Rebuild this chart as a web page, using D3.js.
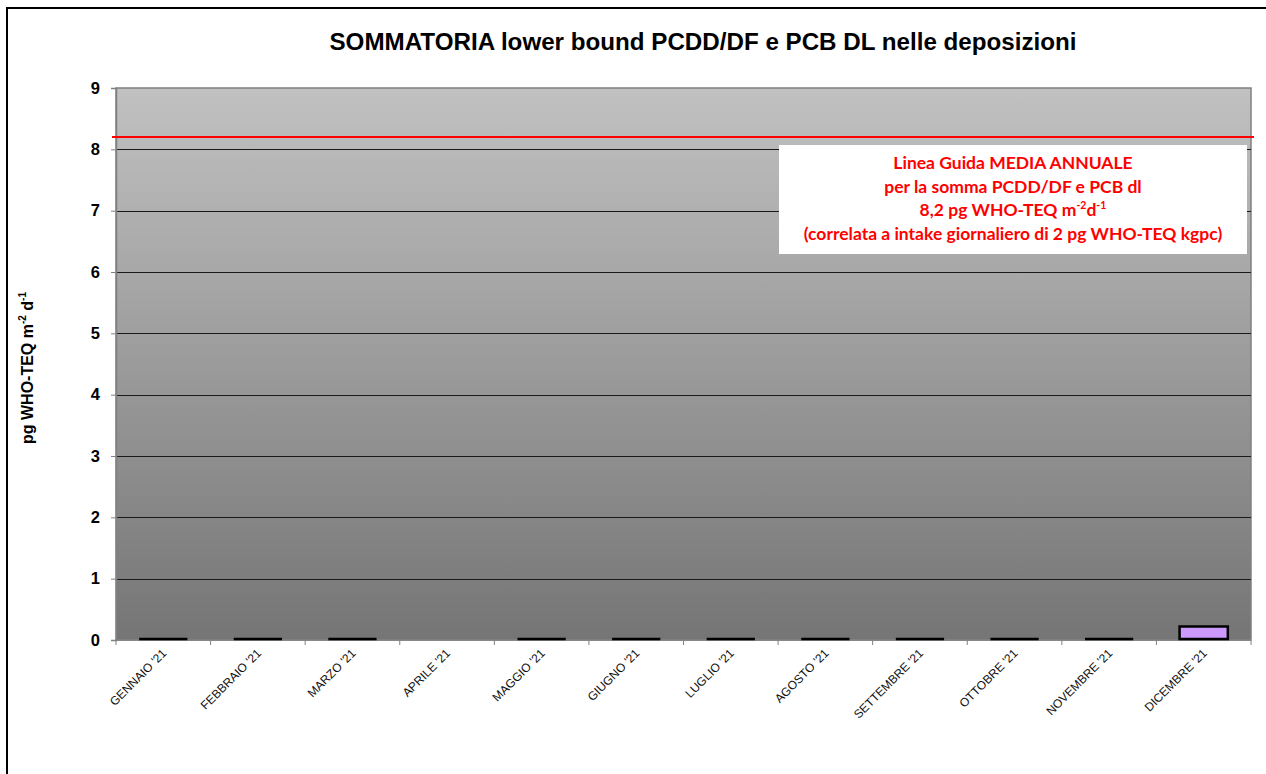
<!DOCTYPE html>
<html>
<head>
<meta charset="utf-8">
<script src="https://cdn.jsdelivr.net/npm/d3@7"></script>
<style>
  html, body { margin: 0; padding: 0; background: #fff; }
  svg { display: block; }
</style>
</head>
<body>
<svg id="chart" width="1266" height="774"></svg>
<script>
// Monthly deposition totals (pg WHO-TEQ m-2 d-1); April has no sample
const months = ["GENNAIO '21", "FEBBRAIO '21", "MARZO '21", "APRILE '21", "MAGGIO '21", "GIUGNO '21",
                "LUGLIO '21", "AGOSTO '21", "SETTEMBRE '21", "OTTOBRE '21", "NOVEMBRE '21", "DICEMBRE '21"];
const values = [0, 0, 0, null, 0, 0, 0, 0, 0, 0, 0, 0.22];
const yTicks = [0, 1, 2, 3, 4, 5, 6, 7, 8, 9];
const guideline = 8.2;
const noteLines = ["Linea Guida MEDIA ANNUALE", "per la somma PCDD/DF e PCB dl", "8,2 pg WHO-TEQ m|-2|d|-1", "(correlata a intake giornaliero di 2 pg WHO-TEQ kgpc)"];

const svg = d3.select("#chart");
const plot = { left: 116, top: 88, right: 1251, bottom: 640 };
const sans = "Liberation Sans, Arial, sans-serif";

// Outer frame
svg.append("rect").attr("x", 7).attr("y", 8).attr("width", 1270).attr("height", 780)
  .attr("fill", "#fff").attr("stroke", "#000").attr("stroke-width", 2);

// Title
svg.append("text").attr("x", 703).attr("y", 50).attr("text-anchor", "middle")
  .attr("font-family", sans).attr("font-weight", "bold")
  .attr("font-size", 23).attr("fill", "#000")
  .attr("textLength", 747).attr("lengthAdjust", "spacingAndGlyphs")
  .text("SOMMATORIA  lower bound PCDD/DF e PCB DL nelle deposizioni");

const x = d3.scaleBand().domain(months).range([plot.left, plot.right]).paddingInner(0.49).paddingOuter(0.245);
const xBand = d3.scaleBand().domain(months).range([plot.left, plot.right]);
const y = d3.scaleLinear().domain([0, 9]).range([plot.bottom, plot.top]);

// Plot background gradient
const defs = svg.append("defs");
const grad = defs.append("linearGradient").attr("id", "bg").attr("x1", 0).attr("y1", 0).attr("x2", 0).attr("y2", 1);
grad.append("stop").attr("offset", "0%").attr("stop-color", "#c1c1c1");
grad.append("stop").attr("offset", "100%").attr("stop-color", "#757575");

svg.append("rect").attr("x", plot.left).attr("y", plot.top)
  .attr("width", plot.right - plot.left).attr("height", plot.bottom - plot.top)
  .attr("fill", "url(#bg)").attr("stroke", "#808080").attr("stroke-width", 1.5);

// Gridlines
svg.append("g").selectAll("line").data(yTicks.filter(d => d > 0 && d < 9)).join("line")
  .attr("x1", plot.left).attr("x2", plot.right)
  .attr("y1", d => Math.round(y(d)) + 0.5).attr("y2", d => Math.round(y(d)) + 0.5)
  .attr("stroke", "#1a1a1a").attr("stroke-width", 1);

// Y axis
const yAxis = svg.append("g").attr("transform", `translate(${plot.left},0)`)
  .call(d3.axisLeft(y).tickValues(yTicks).tickSize(5).tickPadding(11).tickFormat(d3.format("d")));
yAxis.select(".domain").attr("stroke", "#808080").attr("stroke-width", 1.5);
yAxis.selectAll(".tick line").attr("stroke", "#808080");
yAxis.selectAll("text").attr("font-family", sans)
  .attr("font-weight", "bold").attr("font-size", 16.5).attr("fill", "#000");

// X axis with ticks at category boundaries
const xAxisG = svg.append("g").attr("transform", `translate(0,${plot.bottom})`);
xAxisG.append("line").attr("x1", plot.left).attr("x2", plot.right).attr("y1", 0).attr("y2", 0)
  .attr("stroke", "#808080").attr("stroke-width", 1.5);
xAxisG.selectAll("line.tk").data(months.concat(["__end"])).join("line").attr("class", "tk")
  .attr("x1", (d, i) => plot.left + i * xBand.bandwidth()).attr("x2", (d, i) => plot.left + i * xBand.bandwidth())
  .attr("y1", 0).attr("y2", 5).attr("stroke", "#808080");
xAxisG.selectAll("text").data(months).join("text")
  .attr("transform", d => `translate(${xBand(d) + xBand.bandwidth() / 2 + 4},${14}) rotate(-45)`)
  .attr("text-anchor", "end")
  .attr("font-family", sans).attr("font-size", 12)
  .attr("fill", "#111").text(d => d);

// Bars (drawn as paths so zero-height bars still show their outline)
svg.append("g").selectAll("path").data(months.map((m, i) => ({ m, v: values[i] })).filter(d => d.v !== null)).join("path")
  .attr("d", d => {
    const x0 = x(d.m), x1 = x0 + x.bandwidth(), y0 = y(0) - 1, y1 = Math.min(y(d.v), y0);
    return `M${x0},${y0}H${x1}V${y1}H${x0}Z`;
  })
  .attr("fill", "#cc99ff").attr("stroke", "#000").attr("stroke-width", 2.5);

// Guideline
svg.append("line").attr("x1", plot.left - 4).attr("x2", plot.right + 3)
  .attr("y1", y(guideline)).attr("y2", y(guideline))
  .attr("stroke", "#ff0000").attr("stroke-width", 2);

// Annotation box
svg.append("rect").attr("x", 779).attr("y", 145).attr("width", 468).attr("height", 109).attr("fill", "#fff");
const note = svg.append("text").attr("text-anchor", "middle")
  .attr("font-family", "Lato, 'Open Sans', sans-serif").attr("font-weight", "bold")
  .attr("font-size", 17.5).attr("fill", "#ff0000");
noteLines.forEach((line, i) => {
  const t = note.append("tspan").attr("x", 1013).attr("y", 169 + i * 23.5);
  const parts = line.split("|");
  if (parts.length === 1) { t.text(line); return; }
  t.text(parts[0]);
  note.append("tspan").attr("font-size", 10.5).attr("dy", -7).text(parts[1]);
  note.append("tspan").attr("dy", 7).text(parts[2]);
  note.append("tspan").attr("font-size", 10.5).attr("dy", -7).text(parts[3]);
});

// Y axis title
const yt = svg.append("text").attr("transform", "translate(33,368) rotate(-90)").attr("text-anchor", "middle")
  .attr("font-family", sans).attr("font-weight", "bold")
  .attr("font-size", 16).attr("fill", "#000");
yt.append("tspan").text("pg WHO-TEQ m");
yt.append("tspan").attr("font-size", 10).attr("dy", -7).text("-2");
yt.append("tspan").attr("dy", 7).text(" d");
yt.append("tspan").attr("font-size", 10).attr("dy", -7).text("-1");
</script>
</body>
</html>
